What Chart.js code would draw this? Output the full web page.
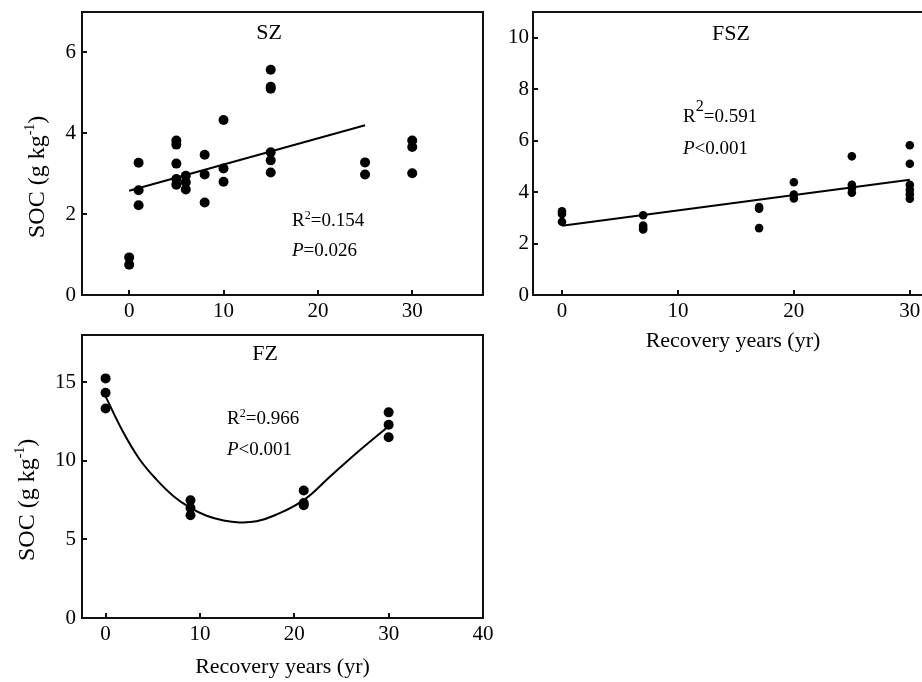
<!DOCTYPE html>
<html>
<head>
<meta charset="utf-8">
<script src="https://cdn.jsdelivr.net/npm/chart.js@4.4.0/dist/chart.umd.min.js"></script>
<style>
  html, body { margin: 0; padding: 0; background: #fff; overflow: hidden; }
  body { width: 922px; height: 682px; position: relative; }
  canvas { position: absolute; }
  #sz_chart { left: 0; top: 0; }
  #fsz_chart { left: 490px; top: 0; }
  #fz_chart { left: 0; top: 330px; }
</style>
</head>
<body>
<canvas id="sz_chart" width="490" height="330"></canvas>
<canvas id="fsz_chart" width="450" height="354"></canvas>
<canvas id="fz_chart" width="500" height="350"></canvas>
<script>
// SZ panel data
const sz_years = [0, 0, 1, 1, 1, 5, 5, 5, 5, 5, 6, 6, 6, 8, 8, 8, 10, 10, 10, 15, 15, 15, 15, 15, 15, 25, 25, 30, 30, 30];
const sz_soc = [0.93, 0.75, 3.27, 2.59, 2.22, 3.82, 3.72, 3.25, 2.87, 2.73, 2.95, 2.79, 2.61, 3.47, 2.98, 2.29, 4.33, 3.13, 2.80, 5.57, 5.15, 5.10, 3.53, 3.33, 3.03, 3.28, 2.98, 3.82, 3.66, 3.01];
const sz_fit_years = [0, 25];
const sz_fit_soc = [2.58, 4.20];

// FSZ panel data
const fsz_years = [0, 0, 0, 7, 7, 7, 7, 17, 17, 17, 20, 20, 20, 25, 25, 25, 25, 30, 30, 30, 30, 30, 30];
const fsz_soc = [3.25, 3.15, 2.85, 3.10, 2.70, 2.60, 2.55, 3.42, 3.35, 2.60, 4.38, 3.90, 3.75, 5.39, 4.28, 4.15, 3.98, 5.82, 5.10, 4.28, 4.09, 3.92, 3.74];
const fsz_fit_years = [0, 30];
const fsz_fit_soc = [2.69, 4.48];

// FZ panel data
const fz_years = [0, 0, 0, 9, 9, 9, 21, 21, 21, 30, 30, 30];
const fz_soc = [15.24, 14.33, 13.33, 7.49, 7.00, 6.54, 8.11, 7.32, 7.17, 13.08, 12.29, 11.50];
const fz_fit_years = [0, 1.8, 3.6, 5.4, 7.2, 9, 10.7, 12.5, 14.2, 16, 18, 21, 23.8, 26.6, 30];
const fz_fit_soc = [14.1, 11.9, 10.1, 8.8, 7.75, 7.0, 6.5, 6.2, 6.08, 6.15, 6.55, 7.5, 9.0, 10.5, 12.2];

// tick values
const sz_x_ticks = [0, 10, 20, 30];
const sz_y_ticks = [0, 2, 4, 6];
const fsz_x_ticks = [0, 10, 20, 30];
const fsz_y_ticks = [0, 2, 4, 6, 8, 10];
const fz_x_ticks = [0, 10, 20, 30, 40];
const fz_y_ticks = [0, 5, 10, 15];

// texts
const panel_names = ["SZ", "FSZ", "FZ"];
const r2_values = ["0.154", "0.591", "0.966"];
const p_values = ["=0.026", "<0.001", "<0.001"];
const x_title = "Recovery years (yr)";

const serif = "'Liberation Serif', 'Times New Roman', serif";
Chart.defaults.font.family = serif;
Chart.defaults.color = "#000";

function toPoints(xs, ys) {
    return xs.map((x, i) => ({ x: x, y: ys[i] }));
}

// draws a row of text parts (supports italic and superscript)
function drawParts(ctx, parts, x, y) {
    let cx = x;
    parts.forEach(p => {
        const size = p.size || 19;
        ctx.font = (p.italic ? "italic " : "") + size + "px " + serif;
        ctx.fillText(p.text, cx, y - (p.rise || 0));
        cx += ctx.measureText(p.text).width;
    });
}

// box around chart area with inward ticks
const frame_plugin = {
    id: "frame",
    afterDatasetsDraw(chart) {
        const ctx = chart.ctx;
        const a = chart.chartArea;
        const xs = chart.scales.x, ys = chart.scales.y;
        ctx.save();
        ctx.strokeStyle = "#111";
        ctx.lineWidth = 2;
        ctx.strokeRect(a.left, a.top, a.right - a.left, a.bottom - a.top);
        ctx.beginPath();
        xs.ticks.forEach(t => {
            const px = Math.round(xs.getPixelForValue(t.value));
            ctx.moveTo(px, a.bottom);
            ctx.lineTo(px, a.bottom - 5);
        });
        ys.ticks.forEach(t => {
            const py = Math.round(ys.getPixelForValue(t.value));
            ctx.moveTo(a.left, py);
            ctx.lineTo(a.left + 5, py);
        });
        ctx.stroke();
        ctx.restore();
    }
};

// panel name, statistics and y axis title
const text_plugin = {
    id: "panelText",
    afterDraw(chart, args, opts) {
        const ctx = chart.ctx;
        ctx.save();
        ctx.fillStyle = "#000";
        ctx.textBaseline = "alphabetic";
        ctx.textAlign = "center";
        ctx.font = "22px " + serif;
        ctx.fillText(opts.name, opts.nameX, opts.nameY);
        ctx.textAlign = "left";
        drawParts(ctx, [
            { text: "R" },
            { text: "2", size: opts.supSize, rise: opts.supRise },
            { text: "=" + opts.r2 }
        ], opts.statX, opts.r2Y);
        drawParts(ctx, [
            { text: "P", italic: true },
            { text: opts.p }
        ], opts.statX, opts.pY);
        if (opts.yTitleX) {
            ctx.translate(opts.yTitleX, opts.yTitleY);
            ctx.rotate(-Math.PI / 2);
            drawParts(ctx, [
                { text: "SOC (g kg", size: 24 },
                { text: "-1", size: 14, rise: 10 },
                { text: ")", size: 24 }
            ], 0, 0);
        }
        ctx.restore();
    }
};

function makePanel(id, o) {
    return new Chart(id, {
        type: "scatter",
        data: {
            datasets: [{
                label: "SOC",
                data: toPoints(o.xs, o.ys),
                backgroundColor: "#000",
                borderWidth: 0,
                pointRadius: o.radius,
                pointHoverRadius: o.radius
            }, {
                label: "fit",
                data: toPoints(o.fitX, o.fitY),
                showLine: true,
                borderColor: "#000",
                borderWidth: 2,
                pointRadius: 0,
                tension: o.tension || 0
            }]
        },
        options: {
            animation: false,
            responsive: false,
            events: [],
            layout: { padding: o.padding },
            plugins: {
                legend: { display: false },
                tooltip: { enabled: false },
                panelText: o.text
            },
            scales: {
                x: {
                    type: "linear",
                    min: o.xMin,
                    max: o.xMax,
                    grid: { display: false, drawTicks: false },
                    border: { display: false },
                    ticks: { padding: 4, color: "#000", font: { size: 21 } },
                    afterBuildTicks: s => { s.ticks = o.xTicks.map(v => ({ value: v })); },
                    afterFit: s => {
                        s.height = o.xHeight;
                        s.paddingLeft = 0;
                        s.paddingRight = 0;
                    },
                    title: {
                        display: !!o.xTitle,
                        text: o.xTitle || "",
                        color: "#000",
                        font: { size: 22 },
                        padding: 0
                    }
                },
                y: {
                    type: "linear",
                    min: o.yMin,
                    max: o.yMax,
                    grid: { display: false, drawTicks: false },
                    border: { display: false },
                    ticks: { padding: o.yPad, color: "#000", font: { size: 21 } },
                    afterBuildTicks: s => { s.ticks = o.yTicks.map(v => ({ value: v })); },
                    afterFit: s => {
                        s.width = o.yWidth;
                        s.paddingTop = 0;
                        s.paddingBottom = 0;
                    }
                }
            }
        },
        plugins: [frame_plugin, text_plugin]
    });
}

const sz_chart = makePanel("sz_chart", {
    xs: sz_years, ys: sz_soc, fitX: sz_fit_years, fitY: sz_fit_soc, radius: 5,
    xMin: -5, xMax: 37.5, yMin: 0, yMax: 7,
    xTicks: sz_x_ticks, yTicks: sz_y_ticks,
    padding: { top: 12, right: 7, left: 0, bottom: 0 },
    xHeight: 35, yWidth: 82, yPad: 6,
    text: {
        name: panel_names[0], nameX: 269, nameY: 39,
        r2: r2_values[0], p: p_values[0], statX: 292, r2Y: 226, pY: 256,
        supSize: 12, supRise: 7,
        yTitleX: 44, yTitleY: 238
    }
});

const fsz_chart = makePanel("fsz_chart", {
    xs: fsz_years, ys: fsz_soc, fitX: fsz_fit_years, fitY: fsz_fit_soc, radius: 4.3,
    xMin: -2.5, xMax: 32, yMin: 0, yMax: 11,
    xTicks: fsz_x_ticks, yTicks: fsz_y_ticks,
    padding: { top: 12, right: 7, left: 0, bottom: 0 },
    xHeight: 59, yWidth: 43, yPad: 4,
    xTitle: x_title,
    text: {
        name: panel_names[1], nameX: 241, nameY: 40,
        r2: r2_values[1], p: p_values[1], statX: 193, r2Y: 122, pY: 154,
        supSize: 16, supRise: 11
    }
});

const fz_chart = makePanel("fz_chart", {
    xs: fz_years, ys: fz_soc, fitX: fz_fit_years, fitY: fz_fit_soc, radius: 5, tension: 0.4,
    xMin: -2.5, xMax: 40, yMin: 0, yMax: 18,
    xTicks: fz_x_ticks, yTicks: fz_y_ticks,
    padding: { top: 4, right: 17, left: 0, bottom: 0 },
    xHeight: 62, yWidth: 82, yPad: 6,
    xTitle: x_title,
    text: {
        name: panel_names[2], nameX: 265, nameY: 30,
        r2: r2_values[2], p: p_values[2], statX: 227, r2Y: 94, pY: 125,
        supSize: 12, supRise: 7,
        yTitleX: 34, yTitleY: 231
    }
});
</script>
</body>
</html>
